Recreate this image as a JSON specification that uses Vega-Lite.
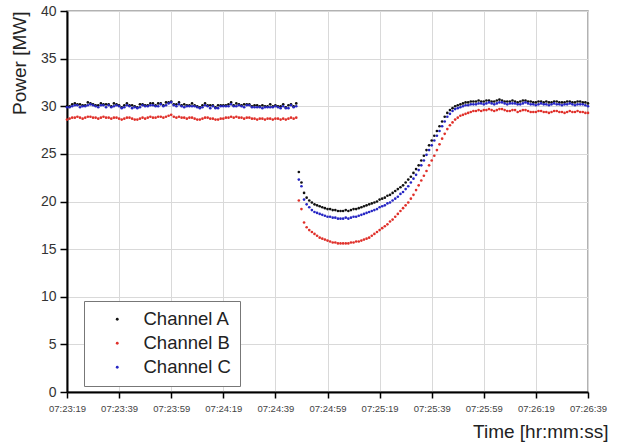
{
  "$schema": "https://vega.github.io/schema/vega-lite/v6.json",
  "width": 521,
  "height": 381,
  "autosize": {"type": "none"},
  "padding": {"left": 67, "top": 11, "right": 30, "bottom": 51},
  "background": "white",
  "config": {
    "font": "Liberation Sans",
    "view": {"stroke": "#999999", "strokeWidth": 1.5}
  },
  "data": {"values": [
{"t":0,"A":30.0,"B":28.6,"C":29.9},{"t":1,"A":30.0,"B":28.7,"C":29.9},{"t":2,"A":30.2,"B":28.8,"C":30.0},{"t":3,"A":30.3,"B":28.8,"C":30.1},{"t":4,"A":30.2,"B":28.9,"C":30.1},{"t":5,"A":30.2,"B":28.8,"C":29.9},{"t":6,"A":30.1,"B":28.7,"C":30.0},{"t":7,"A":30.1,"B":28.8,"C":30.0},{"t":8,"A":30.4,"B":28.9,"C":30.1},{"t":9,"A":30.3,"B":28.9,"C":30.2},
{"t":10,"A":30.2,"B":28.8,"C":30.1},{"t":11,"A":30.1,"B":28.8,"C":30.0},{"t":12,"A":30.1,"B":28.7,"C":29.9},{"t":13,"A":30.3,"B":28.8,"C":30.1},{"t":14,"A":30.2,"B":28.9,"C":30.1},{"t":15,"A":30.2,"B":28.8,"C":29.9},{"t":16,"A":30.2,"B":28.8,"C":30.1},{"t":17,"A":30.0,"B":28.7,"C":29.9},{"t":18,"A":30.3,"B":28.8,"C":30.0},{"t":19,"A":30.2,"B":28.8,"C":30.1},
{"t":20,"A":30.1,"B":28.7,"C":30.0},{"t":21,"A":29.9,"B":28.6,"C":29.8},{"t":22,"A":30.1,"B":28.7,"C":29.9},{"t":23,"A":30.3,"B":28.8,"C":30.1},{"t":24,"A":30.1,"B":28.8,"C":30.0},{"t":25,"A":30.1,"B":28.7,"C":29.8},{"t":26,"A":30.0,"B":28.6,"C":29.9},{"t":27,"A":29.9,"B":28.6,"C":29.8},{"t":28,"A":30.2,"B":28.7,"C":29.9},{"t":29,"A":30.2,"B":28.8,"C":30.1},
{"t":30,"A":30.1,"B":28.7,"C":30.0},{"t":31,"A":30.1,"B":28.8,"C":30.0},{"t":32,"A":30.3,"B":28.9,"C":30.1},{"t":33,"A":30.3,"B":28.8,"C":30.1},{"t":34,"A":30.1,"B":28.8,"C":30.0},{"t":35,"A":30.3,"B":28.9,"C":30.0},{"t":36,"A":30.3,"B":28.9,"C":30.2},{"t":37,"A":30.1,"B":28.8,"C":30.0},{"t":38,"A":30.4,"B":28.9,"C":30.1},{"t":39,"A":30.4,"B":29.0,"C":30.3},
{"t":40,"A":30.5,"B":29.1,"C":30.4},{"t":41,"A":30.2,"B":28.9,"C":30.1},{"t":42,"A":30.2,"B":28.8,"C":30.0},{"t":43,"A":30.4,"B":28.9,"C":30.2},{"t":44,"A":30.1,"B":28.8,"C":30.0},{"t":45,"A":30.2,"B":28.8,"C":29.9},{"t":46,"A":30.1,"B":28.7,"C":30.0},{"t":47,"A":30.1,"B":28.8,"C":30.0},{"t":48,"A":30.3,"B":28.8,"C":30.0},{"t":49,"A":30.1,"B":28.7,"C":30.0},
{"t":50,"A":30.0,"B":28.6,"C":29.9},{"t":51,"A":29.9,"B":28.6,"C":29.8},{"t":52,"A":30.1,"B":28.7,"C":29.9},{"t":53,"A":30.3,"B":28.8,"C":30.1},{"t":54,"A":30.1,"B":28.8,"C":30.0},{"t":55,"A":30.1,"B":28.7,"C":29.8},{"t":56,"A":30.1,"B":28.7,"C":30.0},{"t":57,"A":29.9,"B":28.6,"C":29.8},{"t":58,"A":30.1,"B":28.6,"C":29.8},{"t":59,"A":30.1,"B":28.7,"C":30.0},
{"t":60,"A":30.1,"B":28.7,"C":30.0},{"t":61,"A":30.1,"B":28.8,"C":30.0},{"t":62,"A":30.2,"B":28.8,"C":30.0},{"t":63,"A":30.4,"B":28.9,"C":30.2},{"t":64,"A":30.1,"B":28.8,"C":30.0},{"t":65,"A":30.3,"B":28.9,"C":30.0},{"t":66,"A":30.2,"B":28.8,"C":30.1},{"t":67,"A":30.1,"B":28.8,"C":30.0},{"t":68,"A":30.2,"B":28.7,"C":29.9},{"t":69,"A":30.2,"B":28.8,"C":30.1},
{"t":70,"A":30.2,"B":28.8,"C":30.1},{"t":71,"A":30.0,"B":28.7,"C":29.9},{"t":72,"A":30.1,"B":28.7,"C":29.9},{"t":73,"A":30.1,"B":28.6,"C":29.9},{"t":74,"A":30.0,"B":28.7,"C":29.9},{"t":75,"A":30.1,"B":28.7,"C":29.8},{"t":76,"A":30.0,"B":28.6,"C":29.9},{"t":77,"A":30.0,"B":28.7,"C":29.9},{"t":78,"A":30.2,"B":28.7,"C":29.9},{"t":79,"A":30.0,"B":28.6,"C":29.9},
{"t":80,"A":30.1,"B":28.7,"C":30.0},{"t":81,"A":30.0,"B":28.7,"C":29.9},{"t":82,"A":30.0,"B":28.6,"C":29.8},{"t":83,"A":30.2,"B":28.7,"C":30.0},{"t":84,"A":29.9,"B":28.6,"C":29.8},{"t":85,"A":30.1,"B":28.7,"C":29.8},{"t":86,"A":30.2,"B":28.8,"C":30.1},{"t":87,"A":30.0,"B":28.7,"C":29.9},{"t":88,"A":30.3,"B":28.8,"C":30.0},
{"t":89,"A":23.1,"B":20.1,"C":22.3},{"t":90,"A":22.0,"B":19.2,"C":21.6},{"t":91,"A":20.9,"B":17.8,"C":20.2},{"t":92,"A":20.4,"B":17.3,"C":19.7},{"t":93,"A":20.1,"B":17.0,"C":19.4},{"t":94,"A":19.9,"B":16.8,"C":19.1},{"t":95,"A":19.7,"B":16.6,"C":18.9},{"t":96,"A":19.6,"B":16.4,"C":18.8},{"t":97,"A":19.5,"B":16.2,"C":18.7},{"t":98,"A":19.4,"B":16.1,"C":18.6},{"t":99,"A":19.3,"B":16.0,"C":18.5},
{"t":100,"A":19.2,"B":15.9,"C":18.4},{"t":101,"A":19.2,"B":15.8,"C":18.4},{"t":102,"A":19.1,"B":15.7,"C":18.3},{"t":103,"A":19.1,"B":15.7,"C":18.3},{"t":104,"A":19.0,"B":15.6,"C":18.2},{"t":105,"A":19.0,"B":15.6,"C":18.2},{"t":106,"A":19.0,"B":15.6,"C":18.2},{"t":107,"A":19.1,"B":15.6,"C":18.3},{"t":108,"A":19.0,"B":15.6,"C":18.2},{"t":109,"A":19.1,"B":15.7,"C":18.3},
{"t":110,"A":19.2,"B":15.7,"C":18.4},{"t":111,"A":19.2,"B":15.8,"C":18.4},{"t":112,"A":19.3,"B":15.8,"C":18.5},{"t":113,"A":19.4,"B":15.9,"C":18.6},{"t":114,"A":19.5,"B":16.0,"C":18.7},{"t":115,"A":19.6,"B":16.1,"C":18.8},{"t":116,"A":19.7,"B":16.2,"C":18.9},{"t":117,"A":19.8,"B":16.4,"C":19.0},{"t":118,"A":19.9,"B":16.6,"C":19.1},{"t":119,"A":20.0,"B":16.8,"C":19.2},
{"t":120,"A":20.2,"B":17.0,"C":19.4},{"t":121,"A":20.3,"B":17.2,"C":19.5},{"t":122,"A":20.4,"B":17.4,"C":19.6},{"t":123,"A":20.6,"B":17.6,"C":19.8},{"t":124,"A":20.7,"B":17.9,"C":19.9},{"t":125,"A":20.9,"B":18.1,"C":20.1},{"t":126,"A":21.1,"B":18.4,"C":20.3},{"t":127,"A":21.3,"B":18.7,"C":20.5},{"t":128,"A":21.5,"B":19.0,"C":20.8},{"t":129,"A":21.7,"B":19.3,"C":21.0},
{"t":130,"A":22.0,"B":19.6,"C":21.3},{"t":131,"A":22.3,"B":19.9,"C":21.6},{"t":132,"A":22.6,"B":20.3,"C":22.0},{"t":133,"A":23.0,"B":20.7,"C":22.4},{"t":134,"A":23.4,"B":21.2,"C":22.8},{"t":135,"A":23.8,"B":21.7,"C":23.3},{"t":136,"A":24.3,"B":22.2,"C":23.8},{"t":137,"A":24.8,"B":22.7,"C":24.3},{"t":138,"A":25.4,"B":23.2,"C":24.9},{"t":139,"A":25.9,"B":23.8,"C":25.4},
{"t":140,"A":26.4,"B":24.3,"C":25.9},{"t":141,"A":26.9,"B":24.8,"C":26.4},{"t":142,"A":27.4,"B":25.4,"C":26.9},{"t":143,"A":27.9,"B":26.0,"C":27.4},{"t":144,"A":28.4,"B":26.6,"C":27.9},{"t":145,"A":28.9,"B":27.1,"C":28.4},{"t":146,"A":29.3,"B":27.6,"C":28.9},{"t":147,"A":29.6,"B":28.0,"C":29.2},{"t":148,"A":29.8,"B":28.3,"C":29.5},{"t":149,"A":30.0,"B":28.6,"C":29.7},
{"t":150,"A":30.1,"B":28.8,"C":29.8},{"t":151,"A":30.2,"B":29.0,"C":29.9},{"t":152,"A":30.3,"B":29.1,"C":30.0},{"t":153,"A":30.4,"B":29.2,"C":30.1},{"t":154,"A":30.4,"B":29.3,"C":30.1},{"t":155,"A":30.5,"B":29.4,"C":30.2},{"t":156,"A":30.5,"B":29.5,"C":30.2},{"t":157,"A":30.5,"B":29.5,"C":30.2},{"t":158,"A":30.6,"B":29.6,"C":30.3},{"t":159,"A":30.5,"B":29.5,"C":30.3},
{"t":160,"A":30.5,"B":29.6,"C":30.2},{"t":161,"A":30.6,"B":29.6,"C":30.3},{"t":162,"A":30.6,"B":29.7,"C":30.4},{"t":163,"A":30.5,"B":29.6,"C":30.3},{"t":164,"A":30.5,"B":29.5,"C":30.2},{"t":165,"A":30.6,"B":29.6,"C":30.3},{"t":166,"A":30.7,"B":29.7,"C":30.4},{"t":167,"A":30.6,"B":29.7,"C":30.4},{"t":168,"A":30.5,"B":29.6,"C":30.3},{"t":169,"A":30.5,"B":29.5,"C":30.2},
{"t":170,"A":30.5,"B":29.5,"C":30.3},{"t":171,"A":30.6,"B":29.6,"C":30.3},{"t":172,"A":30.5,"B":29.6,"C":30.3},{"t":173,"A":30.4,"B":29.4,"C":30.2},{"t":174,"A":30.5,"B":29.5,"C":30.2},{"t":175,"A":30.6,"B":29.6,"C":30.3},{"t":176,"A":30.6,"B":29.6,"C":30.4},{"t":177,"A":30.5,"B":29.5,"C":30.3},{"t":178,"A":30.5,"B":29.4,"C":30.2},{"t":179,"A":30.4,"B":29.4,"C":30.2},
{"t":180,"A":30.4,"B":29.4,"C":30.1},{"t":181,"A":30.5,"B":29.5,"C":30.2},{"t":182,"A":30.5,"B":29.5,"C":30.3},{"t":183,"A":30.4,"B":29.4,"C":30.2},{"t":184,"A":30.5,"B":29.4,"C":30.2},{"t":185,"A":30.4,"B":29.3,"C":30.1},{"t":186,"A":30.4,"B":29.4,"C":30.2},{"t":187,"A":30.5,"B":29.5,"C":30.3},{"t":188,"A":30.5,"B":29.5,"C":30.2},{"t":189,"A":30.4,"B":29.4,"C":30.2},
{"t":190,"A":30.4,"B":29.4,"C":30.1},{"t":191,"A":30.4,"B":29.3,"C":30.2},{"t":192,"A":30.5,"B":29.4,"C":30.2},{"t":193,"A":30.5,"B":29.5,"C":30.3},{"t":194,"A":30.4,"B":29.4,"C":30.2},{"t":195,"A":30.4,"B":29.4,"C":30.1},{"t":196,"A":30.5,"B":29.5,"C":30.2},{"t":197,"A":30.5,"B":29.4,"C":30.2},{"t":198,"A":30.4,"B":29.4,"C":30.2},{"t":199,"A":30.4,"B":29.3,"C":30.1},
{"t":200,"A":30.3,"B":29.3,"C":30.0}
  ]},
  "transform": [
    {"fold": ["A", "B", "C"], "as": ["ch", "power"]}
  ],
  "mark": {"type": "point", "filled": true, "size": 7, "opacity": 1, "strokeWidth": 0},
  "encoding": {
    "x": {
      "field": "t", "type": "quantitative",
      "scale": {"domain": [0, 200], "nice": false, "zero": false},
      "axis": {
        "values": [0, 20, 40, 60, 80, 100, 120, 140, 160, 180, 200],
        "labelExpr": "utcFormat((datum.value + 26599) * 1000, '%H:%M:%S')",
        "labelOverlap": false, "labelBound": false, "labelFlush": false,
        "labelFontSize": 9.5, "labelColor": "#444444", "labelPadding": 5,
        "tickSize": 6, "tickColor": "#000000", "tickWidth": 1.5,
        "domainColor": "#000000", "domainWidth": 2,
        "grid": true, "gridColor": "#d9d9d9", "gridWidth": 1,
        "title": "Time [hr:mm:ss]", "titleFontSize": 19, "titleFontWeight": "normal",
        "titleColor": "#222222", "titleAlign": "right", "titleAnchor": "end",
        "titleX": 541, "titleY": 45, "titleBaseline": "alphabetic"
      }
    },
    "y": {
      "field": "power", "type": "quantitative",
      "scale": {"domain": [0, 40], "nice": false},
      "axis": {
        "values": [0, 5, 10, 15, 20, 25, 30, 35, 40],
        "labelFontSize": 14, "labelColor": "#333333", "labelPadding": 4,
        "tickSize": 7, "tickColor": "#000000", "tickWidth": 1.5,
        "domainColor": "#000000", "domainWidth": 2,
        "grid": true, "gridColor": "#d9d9d9", "gridWidth": 1,
        "title": "Power [MW]", "titleFontSize": 19, "titleFontWeight": "normal",
        "titleColor": "#222222", "titleAnchor": "end", "titleAlign": "right",
        "titleX": -42, "titleY": 0, "titleAngle": -90, "titleBaseline": "alphabetic"
      }
    },
    "color": {
      "field": "ch", "type": "nominal",
      "scale": {"domain": ["A", "B", "C"], "range": ["#111111", "#e0302a", "#2626c4"]},
      "legend": {
        "orient": "none", "legendX": 17, "legendY": 290,
        "title": null,
        "labelExpr": "'Channel ' + datum.label",
        "labelFontSize": 18.5, "labelColor": "#222222", "labelOffset": 17,
        "symbolType": "circle", "symbolSize": 8, "symbolOffset": 15,
        "rowPadding": 5, "padding": 9,
        "strokeColor": "#777777", "fillColor": "#ffffff"
      }
    }
  }
}
